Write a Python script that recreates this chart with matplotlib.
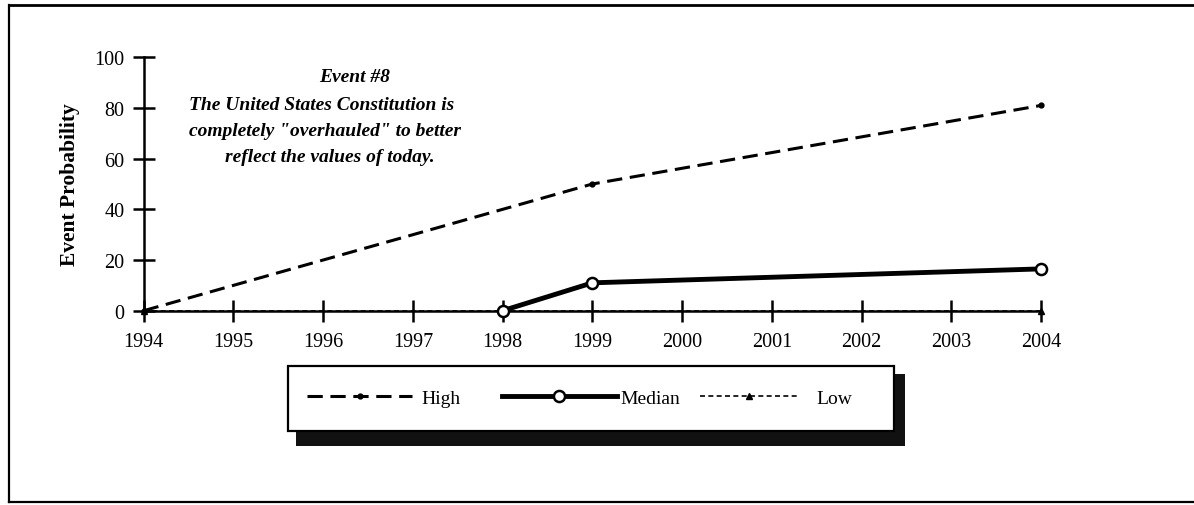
import matplotlib
matplotlib.use("Agg")
import matplotlib.pyplot as plt
from matplotlib.patches import Rectangle
from matplotlib.lines import Line2D

years_high = [1994, 1999, 2004]
high = [0, 50, 81]
years_median = [1998, 1999, 2004]
median = [0, 11, 16.5]
years_low = [1994, 2004]
low = [0, 0]
xticks = list(range(1994, 2005))
yticks = [0, 20, 40, 60, 80, 100]
ytick_labels = ["0", "20", "40", "60", "80", "100"]
series_names = ["High", "Median", "Low"]
title_lines = ["Event #8",
               "The United States Constitution is",
               "completely \"overhauled\" to better",
               "reflect the values of today."]

W, H = 1194, 506
fig = plt.figure(figsize=(W / 100, H / 100), dpi=100)
plt.rcParams['font.family'] = ['Liberation Serif', 'DejaVu Serif']

def fx(px):
    return px / W

def fy(py):
    return 1 - py / H

# outer frame (open on the right)
fig.add_artist(Line2D([fx(9), fx(9)], [fy(6), fy(503)], color='black', lw=1.6))
fig.add_artist(Line2D([fx(9), 1.0], [fy(6), fy(6)], color='black', lw=2.0))
fig.add_artist(Line2D([fx(9), 1.0], [fy(503), fy(503)], color='black', lw=1.6))

ax = fig.add_axes([fx(143.7), fy(311.7), fx(1041) - fx(143.7), fy(58.3) - fy(311.7)])
ax.set_xlim(1994, 2004)
ax.set_ylim(0, 100)
for s in ['top', 'right']:
    ax.spines[s].set_visible(False)
for s in ['left', 'bottom']:
    ax.spines[s].set_linewidth(1.8)
ax.set_xticks(xticks)
ax.set_xticklabels([str(x) for x in xticks])
ax.set_yticks(yticks)
ax.set_yticklabels(ytick_labels)
ax.tick_params(direction='inout', length=16, width=1.8, labelsize=14.5, pad=6)
ax.tick_params(axis='x', pad=7)
ax.set_ylabel("Event Probability", fontsize=15.5, fontweight='bold', labelpad=10)

styles = [
    dict(color='black', lw=2.2, ls=(0, (5, 2.5)), marker='o', markersize=3.5),
    dict(color='black', lw=3.5, ls='-', marker='o', markersize=8,
         markerfacecolor='white', markeredgecolor='black', markeredgewidth=1.8),
    dict(color='black', lw=1.2, ls=(0, (3, 2)), marker='^', markersize=4),
]
ax.plot(years_low, low, clip_on=False, zorder=3, **styles[2])
ax.plot(years_high, high, clip_on=False, zorder=3, **styles[0])
ax.plot(years_median, median, clip_on=False, zorder=4, **styles[1])

# annotation text
ys = [78, 105, 131, 157]
xs = [355, 322, 325, 330]
for t, x, y in zip(title_lines, xs, ys):
    fig.text(fx(x), fy(y), t, ha='center', va='center', fontsize=14,
             fontweight='bold', fontstyle='italic')

# legend box with shadow
fig.add_artist(Rectangle((fx(296), fy(447)), fx(905) - fx(296), fy(375) - fy(447),
                         facecolor='#111111', edgecolor='none', zorder=1))
fig.add_artist(Rectangle((fx(288), fy(432)), fx(894) - fx(288), fy(367) - fy(432),
                         facecolor='white', edgecolor='black', lw=1.6, zorder=2))
leg_x = [307, 502, 700]
leg_len = [5.4, 5.9, 5.05]
leg_pad = [0.5, 0.2, 0.95]
for name, st, lx, ll, lp in zip(series_names, styles, leg_x, leg_len, leg_pad):
    h = Line2D([], [], **st)
    lg = fig.legend([h], [name], loc='center left', bbox_to_anchor=(fx(lx), fy(399)),
                    frameon=False, fontsize=14, handlelength=ll, handletextpad=lp,
                    borderpad=0, borderaxespad=0)
    lg.set_zorder(3)

fig.savefig("out.png", dpi=100)
